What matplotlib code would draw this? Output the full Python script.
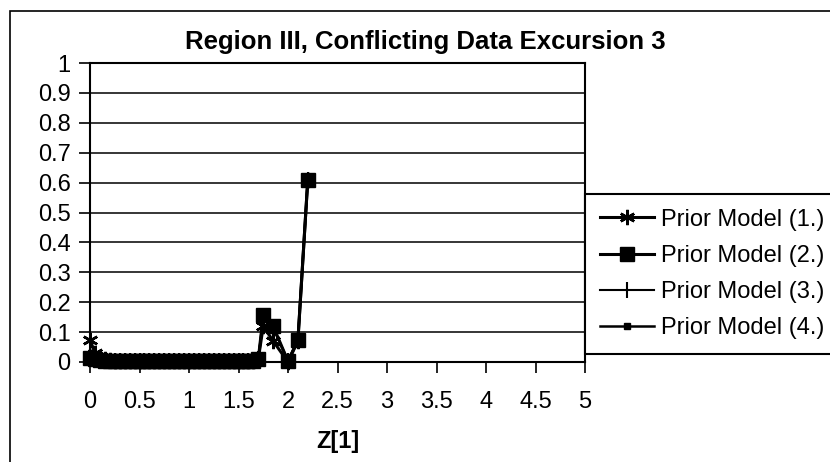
import matplotlib.pyplot as plt
from matplotlib.patches import Rectangle

plt.rcParams['font.family'] = ['Liberation Sans', 'DejaVu Sans']

z = [0, 0.05, 0.1, 0.15, 0.2, 0.25, 0.3, 0.35, 0.4, 0.45, 0.5, 0.55, 0.6, 0.65,
     0.7, 0.75, 0.8, 0.85, 0.9, 0.95, 1.0, 1.05, 1.1, 1.15, 1.2, 1.25, 1.3,
     1.35, 1.4, 1.45, 1.5, 1.55, 1.6, 1.65, 1.7, 1.75, 1.85, 2.0, 2.1, 2.2]
model1 = [0.075, 0.03, 0.015, 0.01, 0.006, 0.004, 0.003, 0.002, 0.002, 0.002,
          0.002, 0.002, 0.002, 0.002, 0.002, 0.002, 0.002, 0.002, 0.002, 0.002,
          0.002, 0.002, 0.002, 0.002, 0.002, 0.002, 0.002, 0.002, 0.002, 0.002,
          0.002, 0.002, 0.003, 0.005, 0.01, 0.12, 0.07, 0.0, 0.07, 0.61]
model2 = [0.015, 0.01, 0.008, 0.005, 0.004, 0.003, 0.002, 0.002, 0.002, 0.002,
          0.002, 0.002, 0.002, 0.002, 0.002, 0.002, 0.002, 0.002, 0.002, 0.002,
          0.002, 0.002, 0.002, 0.002, 0.002, 0.002, 0.002, 0.002, 0.002, 0.002,
          0.002, 0.002, 0.003, 0.005, 0.01, 0.157, 0.12, 0.003, 0.073, 0.61]
model3 = [0.015, 0.01, 0.008, 0.005, 0.004, 0.003, 0.002, 0.002, 0.002, 0.002,
          0.002, 0.002, 0.002, 0.002, 0.002, 0.002, 0.002, 0.002, 0.002, 0.002,
          0.002, 0.002, 0.002, 0.002, 0.002, 0.002, 0.002, 0.002, 0.002, 0.002,
          0.002, 0.002, 0.003, 0.005, 0.01, 0.15, 0.115, 0.003, 0.073, 0.61]
model4 = [0.015, 0.01, 0.008, 0.005, 0.004, 0.003, 0.002, 0.002, 0.002, 0.002,
          0.002, 0.002, 0.002, 0.002, 0.002, 0.002, 0.002, 0.002, 0.002, 0.002,
          0.002, 0.002, 0.002, 0.002, 0.002, 0.002, 0.002, 0.002, 0.002, 0.002,
          0.002, 0.002, 0.003, 0.005, 0.01, 0.15, 0.115, 0.003, 0.073, 0.61]
labels = ['Prior Model (1.)', 'Prior Model (2.)', 'Prior Model (3.)', 'Prior Model (4.)']
xticks = [0, 0.5, 1, 1.5, 2, 2.5, 3, 3.5, 4, 4.5, 5]
yticks = [0, 0.1, 0.2, 0.3, 0.4, 0.5, 0.6, 0.7, 0.8, 0.9, 1]

fig = plt.figure(figsize=(8.3, 4.62), dpi=100)
ax = fig.add_axes([90 / 830, 1 - 362 / 462, 495 / 830, 299 / 462])

# outer chart border
fig.patches.append(Rectangle((10 / 830, -0.05), 1.1, 1.05 - 11 / 462,
                             transform=fig.transFigure, fill=False,
                             edgecolor='black', linewidth=1.2))

ax.plot(z, model1, '-', c='k', lw=2.2, marker=(6, 2, 0), ms=11, mew=1.8,
        clip_on=False, label=labels[0])
ax.plot(z, model2, '-', c='k', lw=2.2, marker='s', ms=10, clip_on=False,
        label=labels[1])
ax.plot(z, model3, '-', c='k', lw=1.5, marker='|', ms=11, mew=1.5,
        clip_on=False, label=labels[2])
ax.plot(z, model4, '-', c='k', lw=1.8, marker='s', ms=5, clip_on=False,
        label=labels[3])

ax.set_xlim(0, 5)
ax.set_ylim(0, 1)
ax.set_xticks(xticks)
ax.set_xticklabels([f'{t:g}' for t in xticks], fontsize=17)
ax.set_yticks(yticks)
ax.set_yticklabels([f'{t:g}' for t in yticks], fontsize=17)
ax.tick_params(axis='x', direction='out', length=8, width=1.2, colors='k', pad=13)
ax.tick_params(axis='y', direction='out', length=8, width=1.2, colors='k', pad=6)
ax.yaxis.grid(True, color='k', lw=1.1)
ax.set_axisbelow(True)
for s in ax.spines.values():
    s.set_linewidth(1.5)
    s.set_color('k')

fig.text(425 / 830, 1 - 42 / 462, 'Region III, Conflicting Data Excursion 3',
         fontsize=18.5, fontweight='bold', ha='center', va='center')
ax.set_xlabel('Z[1]', fontsize=17, fontweight='bold', labelpad=12)

leg = fig.legend(loc='upper left', bbox_to_anchor=(585 / 830, 1 - 194 / 462),
                 borderaxespad=0, fontsize=17, frameon=True, fancybox=False,
                 edgecolor='k', framealpha=1, handlelength=2.3,
                 labelspacing=0.6, borderpad=0.62, handletextpad=0.3)
leg.get_frame().set_linewidth(1.5)

fig.savefig('out.png', dpi=100)
